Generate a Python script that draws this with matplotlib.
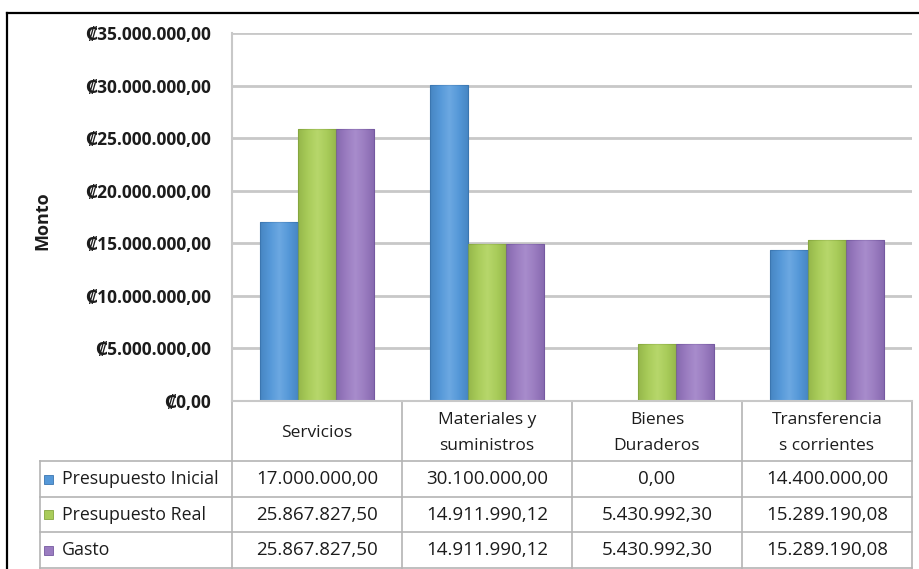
import matplotlib.pyplot as plt
import matplotlib.transforms as mtransforms
from matplotlib.lines import Line2D
from matplotlib.patches import Rectangle
from matplotlib.colors import LinearSegmentedColormap
import numpy as np

plt.rcParams['font.family'] = ['Open Sans', 'DejaVu Sans']

categories = ['Servicios', 'Materiales y\nsuministros', 'Bienes\nDuraderos', 'Transferencia\ns corrientes']
series_names = ['Presupuesto Inicial', 'Presupuesto Real', 'Gasto']
presupuesto_inicial = [17000000.00, 30100000.00, 0.00, 14400000.00]
presupuesto_real = [25867827.50, 14911990.12, 5430992.30, 15289190.08]
gasto = [25867827.50, 14911990.12, 5430992.30, 15289190.08]
y_ticks = [0, 5000000, 10000000, 15000000, 20000000, 25000000, 30000000, 35000000]

colors = ['#5598d8', '#a9cc5a', '#9a7cc0']
lights = ['#7fb6ea', '#c3e07a', '#b49ad6']
edges = ['#3b76b0', '#85a63e', '#7559a0']
grid_c = '#c8c8c8'
txt_c = '#1c1c1c'

W, H = 920, 569


def es_num(v):
    s = f"{v:,.2f}"
    return s.replace(',', 'X').replace('.', ',').replace('X', '.')


def fy(y):
    return 1 - y / H


fig = plt.figure(figsize=(W / 100, H / 100), dpi=100)
ax = fig.add_axes([232 / W, fy(401), (912 - 232) / W, (401 - 33) / H])

x = np.arange(len(categories))
bw = 0.225
data = [presupuesto_inicial, presupuesto_real, gasto]
for i, vals in enumerate(data):
    bars = ax.bar(x + (i - 1) * bw, vals, width=bw, color=colors[i], edgecolor=edges[i],
                  linewidth=0.8, zorder=3)
    # soft bevel shading inside each bar
    cmap = LinearSegmentedColormap.from_list('b%d' % i, [edges[i], colors[i], lights[i], colors[i], edges[i]])
    grad = np.linspace(0, 1, 64).reshape(1, -1)
    for b in bars:
        if b.get_height() <= 0:
            continue
        im = ax.imshow(grad, cmap=cmap, aspect='auto', zorder=3.5, alpha=0.55,
                       extent=[b.get_x(), b.get_x() + b.get_width(), 0, b.get_height()])
        im.set_clip_path(b)

ax.set_xlim(-0.5, len(categories) - 0.5)
ax.set_ylim(0, 35000000)
ax.set_yticks(y_ticks)
ax.set_yticklabels(['\u20a1' + es_num(t) for t in y_ticks], fontsize=12.5, fontweight='bold', color=txt_c)
ax.tick_params(axis='y', length=0, pad=15)
ax.set_xticks([])
ax.grid(axis='y', color=grid_c, linewidth=2, zorder=0)
for s in ['top', 'right', 'bottom']:
    ax.spines[s].set_visible(False)
ax.spines['left'].set_color(grid_c)
ax.spines['left'].set_linewidth(1.5)

ax.set_ylabel('Monto', fontsize=13, fontweight='bold', color=txt_c)
ax.yaxis.set_label_coords((51 - 232) / 680, 0.49)

# data table below the plot
tr = mtransforms.blended_transform_factory(ax.transData, fig.transFigure)
tbl_c = '#b4b4b4'
row_y = [401, 461, 497, 532, 568]
col_x = np.arange(len(categories) + 1) - 0.5

for cx in col_x:
    fig.add_artist(Line2D([cx, cx], [fy(401), fy(568)], transform=tr, color=tbl_c, lw=1.2))
for ry in row_y[1:]:
    fig.add_artist(Line2D([40 / W, 912 / W], [fy(ry), fy(ry)], transform=fig.transFigure, color=tbl_c, lw=1.2))
fig.add_artist(Line2D([232 / W, 912 / W], [fy(401), fy(401)], transform=fig.transFigure, color=grid_c, lw=1.5))
fig.add_artist(Line2D([40 / W, 40 / W], [fy(461), fy(568)], transform=fig.transFigure, color=tbl_c, lw=1.2))

for j, cat in enumerate(categories):
    fig.text(x[j], fy(433), cat, transform=tr, ha='center', va='center', fontsize=12.5,
             color=txt_c, linespacing=1.85)

for i, name in enumerate(series_names):
    yc = fy((row_y[i + 1] + row_y[i + 2]) / 2)
    fig.add_artist(Rectangle((44 / W, yc - 4.5 / H), 9 / W, 9 / H, transform=fig.transFigure,
                             facecolor=colors[i], edgecolor=edges[i], lw=0.6))
    fig.text(62 / W, yc, name, ha='left', va='center', fontsize=12.8, color=txt_c)
    for j in range(len(categories)):
        fig.text(x[j], yc, es_num(data[i][j]), transform=tr, ha='center', va='center',
                 fontsize=13.5, color=txt_c)

# outer chart frame
fig.add_artist(Line2D([7 / W, 1], [fy(13), fy(13)], transform=fig.transFigure, color='black', lw=1.6))
fig.add_artist(Line2D([7 / W, 7 / W], [fy(13), 0], transform=fig.transFigure, color='black', lw=1.6))

fig.savefig('out.png', dpi=100)
